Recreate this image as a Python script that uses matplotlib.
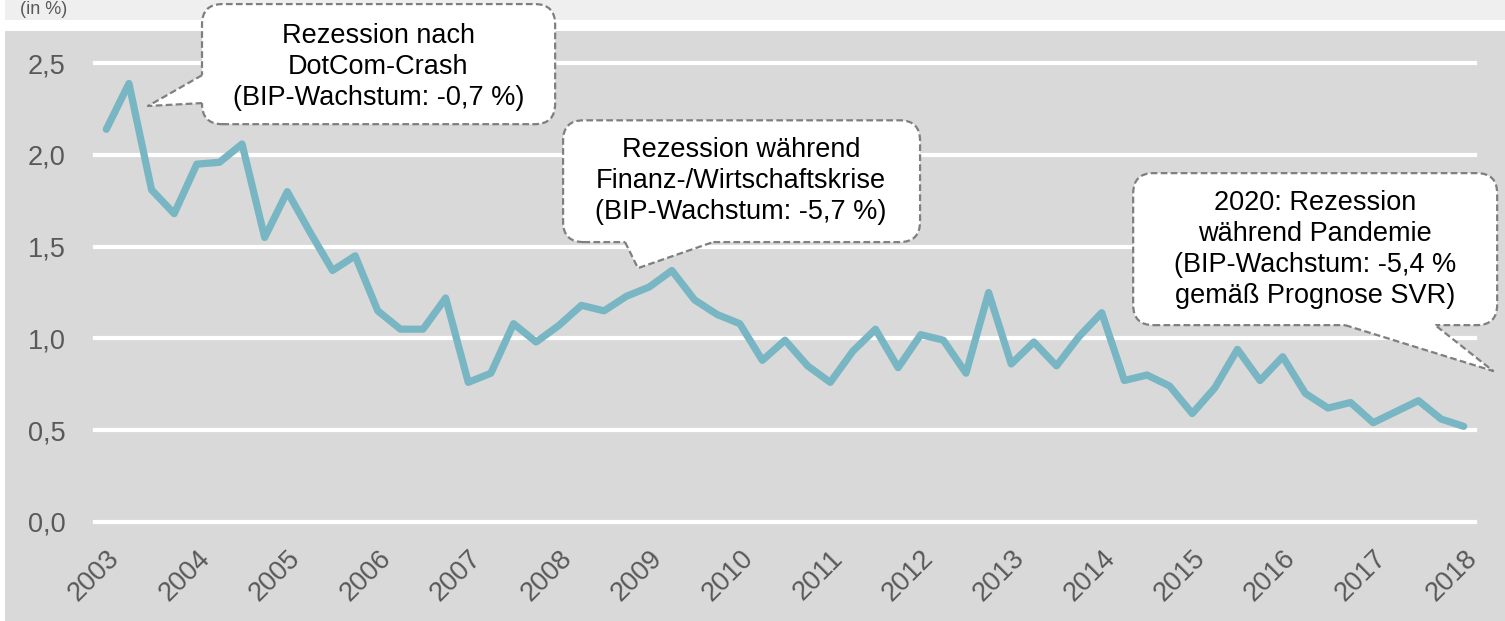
import numpy as np
import matplotlib.pyplot as plt
from matplotlib.patches import FancyBboxPatch, Polygon, Rectangle
from matplotlib.lines import Line2D

plt.rcParams['font.family'] = ['Liberation Sans', 'DejaVu Sans']

# quarterly values 2003 Q1 - 2018 Q1 (in %)
values = [2.14, 2.39, 1.81, 1.68, 1.95, 1.96, 2.06, 1.55,
          1.80, 1.58, 1.37, 1.45, 1.15, 1.05, 1.05, 1.22,
          0.76, 0.81, 1.08, 0.98, 1.07, 1.18, 1.15, 1.23,
          1.28, 1.37, 1.21, 1.13, 1.08, 0.88, 0.99, 0.85,
          0.76, 0.93, 1.05, 0.84, 1.02, 0.99, 0.81, 1.25,
          0.86, 0.98, 0.85, 1.01, 1.14, 0.77, 0.80, 0.74,
          0.59, 0.73, 0.94, 0.77, 0.90, 0.70, 0.62, 0.65,
          0.54, 0.60, 0.66, 0.56, 0.52]
years = [str(y) for y in range(2003, 2019)]
y_ticks = [0.0, 0.5, 1.0, 1.5, 2.0, 2.5]
y_labels = ['0,0', '0,5', '1,0', '1,5', '2,0', '2,5']

notes = [
    "Rezession nach\nDotCom-Crash\n(BIP-Wachstum: -0,7 %)",
    "Rezession während\nFinanz-/Wirtschaftskrise\n(BIP-Wachstum: -5,7 %)",
    "2020: Rezession\nwährend Pandemie\n(BIP-Wachstum: -5,4 %\ngemäß Prognose SVR)",
]

W, H = 1505, 621
fig = plt.figure(figsize=(W / 100, H / 100), dpi=100)
fig.patch.set_facecolor('white')

# background bands
fig.patches.append(Rectangle((5 / W, 1 - 20 / H), 1, 20 / H, transform=fig.transFigure,
                             fc='#efefef', ec='none', zorder=-10))
fig.patches.append(Rectangle((5 / W, 0), 1, 1 - 31 / H, transform=fig.transFigure,
                             fc='#d9d9d9', ec='none', zorder=-10))
fig.text(20 / W, 1 - 1 / H, '(in %)', color='#595959', fontsize=13, va='top', ha='left')

ax = fig.add_axes([95 / W, 1 - 521.7 / H, 1380 / W, (521.7 - 63.3) / H])
ax.set_facecolor('none')
for s in ax.spines.values():
    s.set_visible(False)

x = np.arange(len(values))
ax.plot(x, values, color='#78b6c4', lw=5.2, solid_capstyle='round',
        solid_joinstyle='round', zorder=3)

ax.set_xlim(-0.5, len(values) - 0.5)
ax.set_ylim(0, 2.5)
ax.set_yticks(y_ticks)
ax.set_yticklabels(y_labels)
ax.set_xticks(x[::4])
ax.set_xticklabels(years, rotation=45, ha='right', va='top', rotation_mode='anchor')
ax.tick_params(axis='both', length=0, labelsize=19.5, labelcolor='#595959')
ax.tick_params(axis='y', pad=21)
ax.tick_params(axis='x', pad=17)
ax.yaxis.grid(True, color='white', lw=3)
for gl in ax.get_ygridlines():
    gl.set_clip_on(False)
ax.set_axisbelow(True)

# callouts: box (x0, x1, y_bottom, y_top), pointer base points, tip, text centre
aspect = 22.62 / 183.4
dash = (0, (3, 1.5))
callouts = [
    ((4.23, 19.84, 2.168, 2.823), [(4.23, 2.435), (4.23, 2.283)], (1.84, 2.267), (12.03, 2.479)),
    ((20.19, 35.97, 1.525, 2.189), [(22.93, 1.525), (26.82, 1.525)], (23.50, 1.383), (28.05, 1.857)),
    ((45.39, 61.48, 1.072, 1.901), [(54.76, 1.072), (58.74, 1.072)], (61.30, 0.822), (53.43, 1.486)),
]
for (box, base, tip, ctr), txt in zip(callouts, notes):
    x0, x1, y0, y1 = box
    patch = FancyBboxPatch((x0, y0), x1 - x0, y1 - y0,
                           boxstyle='round,pad=0,rounding_size=0.9',
                           mutation_aspect=aspect, fc='white', ec='#7f7f7f',
                           lw=1.6, ls=dash, transform=ax.transData,
                           clip_on=False, zorder=5)
    ax.add_patch(patch)
    (bx1, by1), (bx2, by2) = base
    # push base slightly into the box to hide the border there
    if bx1 == bx2:
        inner = [(bx2 + 0.3, by2), (bx1 + 0.3, by1)]
    else:
        inner = [(bx2, by2 + 0.04), (bx1, by1 + 0.04)]
    poly = Polygon([(bx1, by1), tip, (bx2, by2)] + inner, closed=True,
                   fc='white', ec='none', transform=ax.transData,
                   clip_on=False, zorder=6)
    ax.add_patch(poly)
    ax.add_line(Line2D([bx1, tip[0], bx2], [by1, tip[1], by2], color='#7f7f7f',
                       lw=1.6, ls=dash, clip_on=False, zorder=7))
    ax.text(ctr[0], ctr[1], txt, ha='center', va='center', fontsize=19.5,
            color='black', linespacing=1.25, zorder=8, clip_on=False)

fig.savefig('out.png', dpi=100)
